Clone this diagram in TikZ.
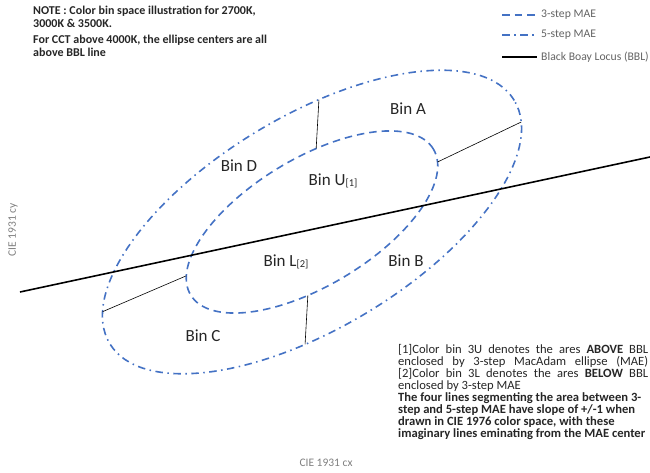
\documentclass[tikz,border=0pt]{standalone}
\usepackage{fontspec}
\setmainfont{Carlito}
\usetikzlibrary{calc}
\definecolor{maeblue}{RGB}{68,114,196}
\definecolor{axisgray}{RGB}{128,128,128}
\definecolor{legendgray}{RGB}{100,100,100}
\definecolor{textdark}{RGB}{38,38,38}
\begin{document}
\begin{tikzpicture}[x=1pt,y=1pt,
  step3/.style={draw=maeblue, line width=1.6pt, dash pattern=on 7.5pt off 5pt},
  step5/.style={draw=maeblue, line width=1.6pt, dash pattern=on 7.5pt off 4.5pt on 1.5pt off 4.5pt},
  bbl/.style={draw=black, line width=1.6pt},
  seg/.style={draw=black, line width=0.6pt},
  binlabel/.style={font=\fontsize{17}{20}\selectfont, text=textdark, inner sep=0pt},
  legendtext/.style={font=\fontsize{11.7}{13}\selectfont, text=legendgray, anchor=west, inner sep=0pt},
  axislabel/.style={font=\fontsize{11.5}{13}\selectfont, text=axisgray, inner sep=0pt}]
\useasboundingbox (0,0) rectangle (650,472);

% ellipses and segment lines
\begin{scope}[shift={(312,250)}, rotate=31]
  \coordinate (C) at (0,0);
  \draw[step5] (C) ellipse [x radius=236, y radius=106];
  \draw[step3] (C) ellipse [x radius=141.6, y radius=63.6];
  \coordinate (oT) at ({236*cos(73)},{106*sin(73)});
  \coordinate (iT) at ({141.6*cos(73)},{63.6*sin(73)});
  \coordinate (oB) at ({236*cos(253)},{106*sin(253)});
  \coordinate (iB) at ({141.6*cos(253)},{63.6*sin(253)});
  \coordinate (oL) at ({236*cos(163)},{106*sin(163)});
  \coordinate (iL) at ({141.6*cos(163)},{63.6*sin(163)});
  \coordinate (oR) at ({236*cos(-12)},{106*sin(-12)});
  \coordinate (iR) at ({141.6*cos(-12)},{63.6*sin(-12)});
\end{scope}
\draw[seg] (oT) -- (iT);
\draw[seg] (oB) -- (iB);
\draw[seg] (oL) -- (iL);
\draw[seg] (oR) -- (iR);

% black body locus
\coordinate (bblL) at (20,180);
\coordinate (bblR) at (650,315);
\draw[bbl] (bblL) -- (bblR);

% bin labels
\node[binlabel] (binA) at (408,363) {Bin A};
\node[binlabel] (binD) at (239,306) {Bin D};
\node[binlabel] (binU) at (333,291) {Bin U\raisebox{-1.5pt}{\fontsize{10.5}{12}\selectfont[1]}};
\node[binlabel] (binL) at (286,210) {Bin L\raisebox{-1.5pt}{\fontsize{10.5}{12}\selectfont[2]}};
\node[binlabel] (binB) at (406,211) {Bin B};
\node[binlabel] (binC) at (203,136) {Bin C};

% legend
\coordinate (l1a) at (502,457); \coordinate (l1b) at (537,457);
\coordinate (l2a) at (502,437); \coordinate (l2b) at (537,437);
\coordinate (l3a) at (502,415); \coordinate (l3b) at (537,415);
\draw[step3] (l1a) -- (l1b);
\draw[step5] (l2a) -- (l2b);
\draw[draw=black, line width=1.6pt] (l3a) -- (l3b);
\node[legendtext] (leg1) at (541,457) {3-step MAE};
\node[legendtext] (leg2) at (541,437) {5-step MAE};
\node[legendtext] (leg3) at (541,415) {Black Boay Locus (BBL)};

% note
\node[anchor=north west, align=left, inner sep=0pt, text=textdark,
      font=\bfseries\fontsize{12}{13.3}\selectfont] (note) at (33,466)
  {NOTE : Color bin space illustration for 2700K,\\
   3000K \& 3500K.\\[2pt]
   For CCT above 4000K, the ellipse centers are all\\
   above BBL line};

% footnotes
\node[anchor=north west, align=left, inner sep=0pt, text=textdark,
      font=\fontsize{12.6}{12}\selectfont] (foot) at (398,128)
  {\makebox[250pt][s]{[1]Color bin 3U denotes the ares \textbf{ABOVE} BBL}\\
   \makebox[250pt][s]{enclosed by 3-step MacAdam ellipse (MAE)}\\
   \makebox[250pt][s]{[2]Color bin 3L denotes the ares \textbf{BELOW} BBL}\\
   enclosed by 3-step MAE\\
   \textbf{The four lines segmenting the area between 3-}\\
   \textbf{step and 5-step MAE have slope of +/-1 when}\\
   \textbf{drawn in CIE 1976 color space, with these}\\
   \textbf{imaginary lines eminating from the MAE center}};

% axis labels
\node[axislabel] (xlab) at (326,9) {CIE 1931 cx};
\node[axislabel, rotate=90] (ylab) at (13,242) {CIE 1931 cy};
\end{tikzpicture}
\end{document}
